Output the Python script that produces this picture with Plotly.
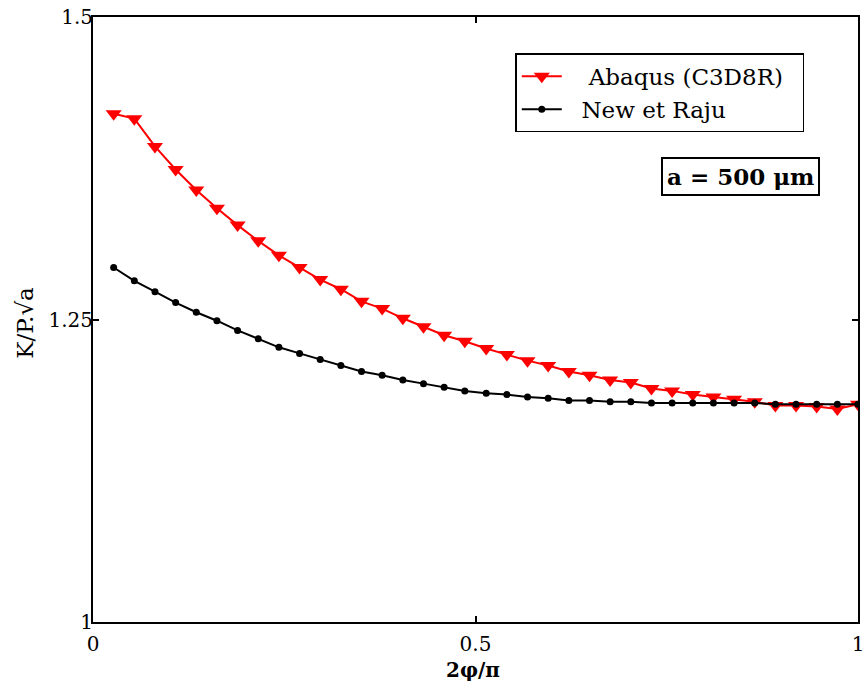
import plotly.graph_objects as go

x_vals = [0.027, 0.054, 0.081, 0.108, 0.135, 0.162, 0.189, 0.216, 0.243, 0.270,
          0.297, 0.324, 0.351, 0.378, 0.405, 0.432, 0.459, 0.486, 0.514, 0.541,
          0.568, 0.595, 0.622, 0.649, 0.676, 0.703, 0.730, 0.757, 0.784, 0.811,
          0.838, 0.865, 0.892, 0.919, 0.946, 0.973, 1.000]

abaqus = [1.420, 1.416, 1.393, 1.374, 1.357, 1.342, 1.328, 1.315, 1.303, 1.293,
          1.283, 1.275, 1.265, 1.259, 1.251, 1.244, 1.237, 1.232, 1.226, 1.221,
          1.216, 1.212, 1.207, 1.204, 1.200, 1.198, 1.193, 1.191, 1.188, 1.186,
          1.184, 1.182, 1.179, 1.179, 1.178, 1.176, 1.180]

newraju = [1.293, 1.282, 1.273, 1.264, 1.256, 1.249, 1.241, 1.234, 1.227, 1.222,
           1.217, 1.212, 1.207, 1.204, 1.200, 1.197, 1.194, 1.191, 1.189, 1.188,
           1.186, 1.185, 1.183, 1.183, 1.182, 1.182, 1.181, 1.181, 1.181, 1.181,
           1.181, 1.181, 1.180, 1.180, 1.180, 1.180, 1.180]

x_ticks = [0, 0.5, 1]
x_tick_text = ["0", "0.5", "1"]
y_ticks = [1, 1.25, 1.5]
y_tick_text = ["1", "1.25", "1.5"]

FONT = "DejaVu Serif"
NB = "\u00a0"

fig = go.Figure()
fig.add_trace(go.Scatter(
    x=x_vals, y=abaqus, mode="lines+markers",
    name=NB * 3 + "Abaqus (C3D8R)" + NB * 2,
    line=dict(color="#ff0000", width=2),
    marker=dict(symbol="triangle-down", size=14, color="#ff0000"),
))
fig.add_trace(go.Scatter(
    x=x_vals, y=newraju, mode="lines+markers",
    name=NB * 2 + "New et Raju",
    line=dict(color="#000000", width=2),
    marker=dict(symbol="circle", size=7, color="#000000"),
))

axis_common = dict(
    showline=True, linecolor="black", linewidth=2, mirror="ticks",
    ticks="inside", ticklen=6, tickwidth=1.5, tickcolor="black",
    showgrid=False, zeroline=False, automargin=False,
    tickfont=dict(family=FONT, size=20, color="black"),
)

fig.update_layout(
    width=865, height=686,
    margin=dict(l=93, r=7, t=17, b=64),
    paper_bgcolor="white", plot_bgcolor="white",
    font=dict(family=FONT, color="black"),
    xaxis=dict(range=[0, 1], tickvals=x_ticks, ticktext=x_tick_text,
               ticklabelstandoff=3, **axis_common),
    yaxis=dict(range=[1, 1.5], tickvals=y_ticks, ticktext=y_tick_text,
               ticklabelstandoff=-6, **axis_common),
    showlegend=True,
    legend=dict(
        x=0.552, y=0.94, xanchor="left", yanchor="top",
        bgcolor="white", bordercolor="black", borderwidth=1.5,
        font=dict(family=FONT, size=23, color="black"),
        tracegroupgap=0, itemwidth=40,
    ),
    annotations=[
        dict(text="<b>2φ/π</b>", xref="paper", yref="paper", x=0.497, y=-0.08,
             xanchor="center", yanchor="middle", showarrow=False,
             font=dict(family=FONT, size=20, color="black")),
        dict(text="K/P.√a", xref="paper", yref="paper", x=-0.09, y=0.495,
             xanchor="center", yanchor="middle", showarrow=False, textangle=-90,
             font=dict(family=FONT, size=23, color="black")),
        dict(text="<b>a = 500 μm</b>", xref="paper", yref="paper", x=0.846, y=0.737,
             xanchor="center", yanchor="middle", showarrow=False,
             bordercolor="black", borderwidth=2, borderpad=4, bgcolor="white",
             font=dict(family=FONT, size=23, color="black")),
    ],
)

fig.write_html("out.html", config={"displayModeBar": False},
               post_script="document.body.style.margin='0';")
